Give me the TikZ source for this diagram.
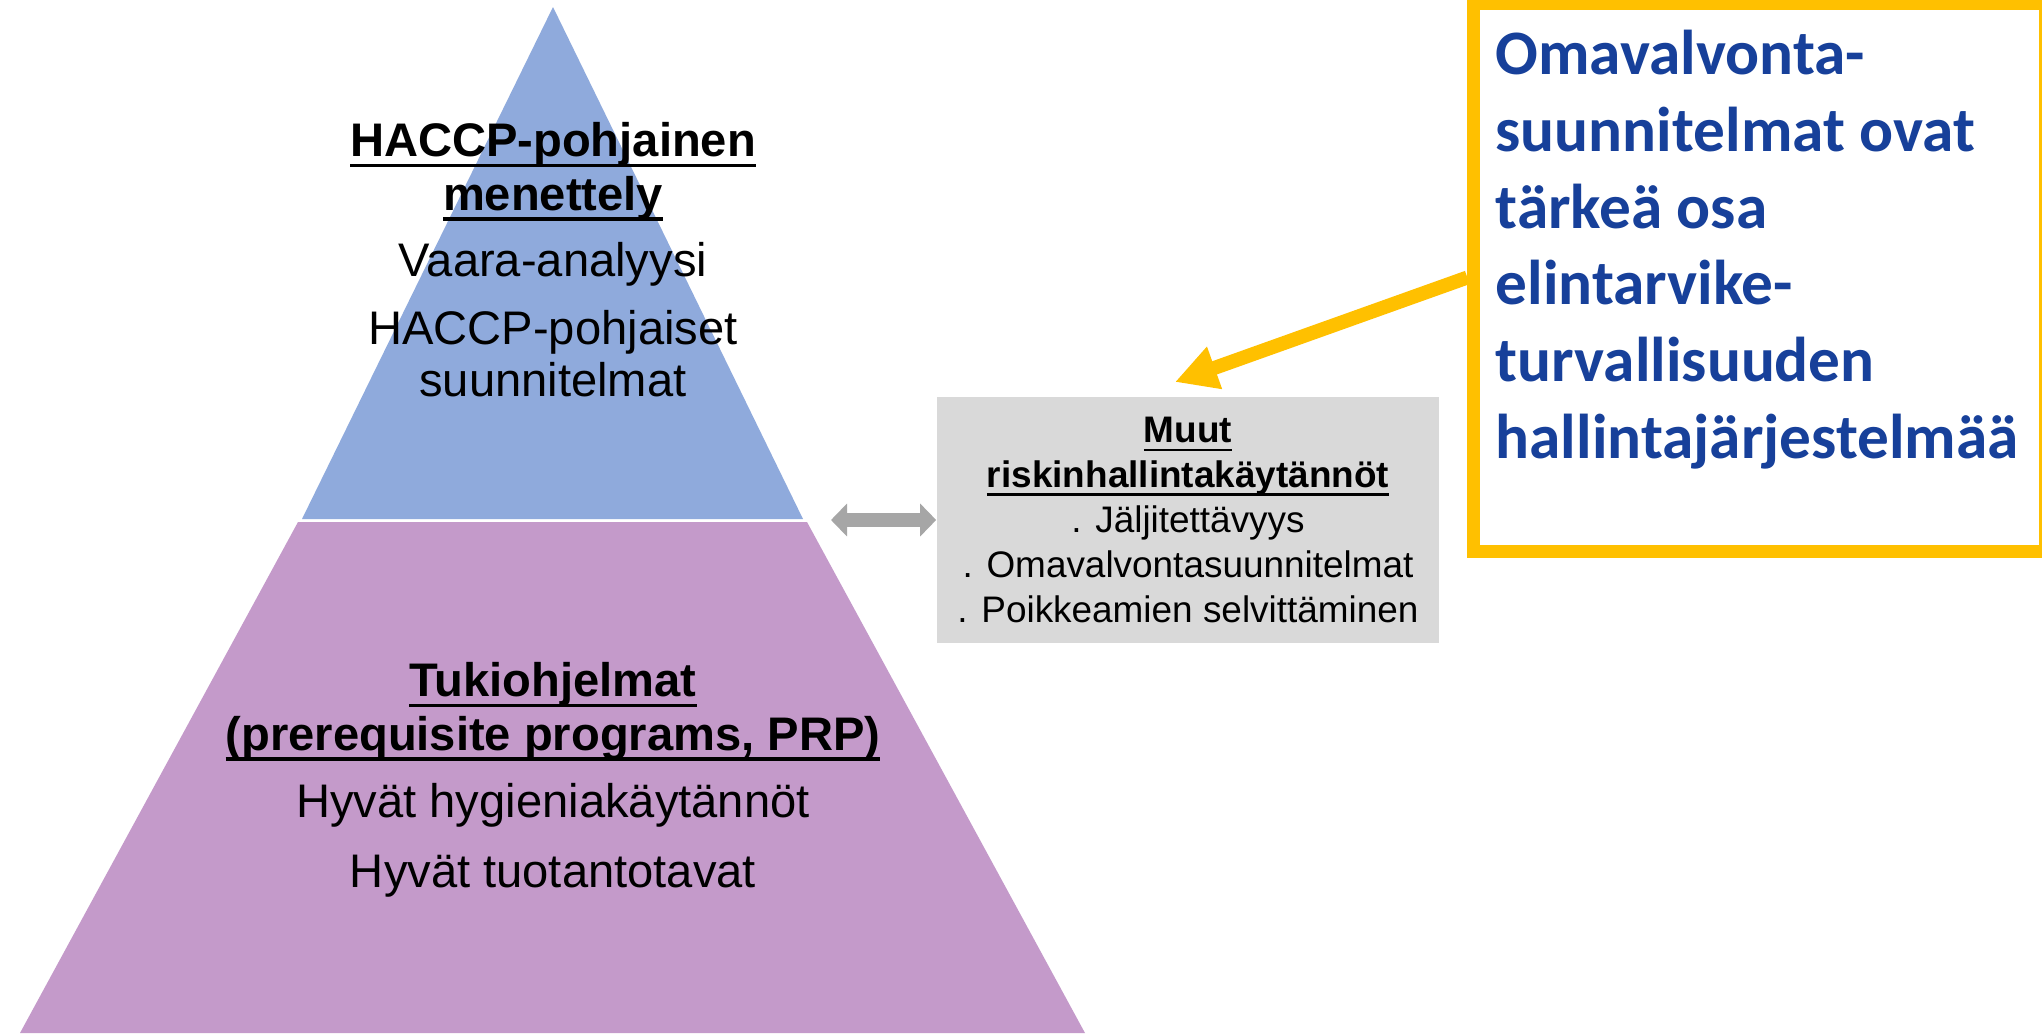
\documentclass[tikz,border=0pt]{standalone}
\usepackage{fontspec}
\setmainfont{Liberation Sans}
\newfontfamily\calibri{Carlito}
\usetikzlibrary{arrows.meta}
\definecolor{haccpblue}{HTML}{8FAADC}
\definecolor{prppurple}{HTML}{C49ACA}
\definecolor{boxgray}{HTML}{D9D9D9}
\definecolor{arrowgray}{HTML}{A6A6A6}
\definecolor{noteyellow}{HTML}{FFC000}
\definecolor{noteblue}{HTML}{17409A}
\newsavebox{\ulnbox}
\newcommand{\uln}[1]{\sbox{\ulnbox}{#1}\rlap{\rule[-0.23em]{\wd\ulnbox}{0.075em}}\usebox{\ulnbox}}
\begin{document}
\begin{tikzpicture}[x=0.01cm, y=-0.01cm,
  pyrtitle/.style={font=\fontsize{13.4}{15.2}\selectfont\bfseries, align=center, anchor=base, inner sep=0pt},
  pyrtext/.style={font=\fontsize{13.4}{14.7}\selectfont, align=center, anchor=base, inner sep=0pt}]
\useasboundingbox (0,0) rectangle (2042,1033);
\fill[white] (0,0) rectangle (2042,1033);
% pyramid
\draw[fill, haccpblue, draw=none] (553,7) -- (803,519) -- (302,519) -- cycle;
\draw[fill, prppurple, draw=none] (298,522) -- (807,522) -- (1085,1033) -- (20,1033) -- cycle;
\node[pyrtitle] (haccptitle) at (553,210) {\uln{HACCP-pohjainen}\\\uln{menettely}};
\node[pyrtext] (vaara) at (553,276) {Vaara-analyysi};
\node[pyrtext] (haccpplans) at (553,396) {HACCP-pohjaiset\\suunnitelmat};
\node[pyrtitle] (prptitle) at (553,750) {\uln{Tukiohjelmat}\\\uln{(prerequisite programs, PRP)}};
\node[pyrtext] (hygiene) at (553,817) {Hyvät hygieniakäytännöt};
\node[pyrtext] (production) at (553,887) {Hyvät tuotantotavat};
% other risk management box
\node[fill=boxgray, minimum width=5.02cm, minimum height=2.46cm, inner sep=0pt, align=center,
  font=\fontsize{10.5}{12.75}\selectfont] (riskbox) at (1188,520)
  {\textbf{\uln{Muut}}\\\textbf{\uln{riskinhallintakäytännöt}}\\. Jäljitettävyys\\. Omavalvontasuunnitelmat\\. Poikkeamien selvittäminen};
\coordinate (pyrright) at (831,520);
\draw[arrowgray, line width=0.14cm, {Triangle[length=0.16cm,width=0.32cm]}-{Triangle[length=0.16cm,width=0.32cm]}] (pyrright) -- (riskbox.west);
% note
\coordinate (risktop) at (1175,382);
\node[draw=noteyellow, line width=0.13cm, minimum width=5.715cm, minimum height=5.48cm, inner sep=0pt] (notebox) at (1759.75,277.5) {};
\draw[noteyellow, line width=0.14cm, -{Triangle[length=0.42cm,width=0.42cm]}] (notebox.west) -- (risktop);
\node[font=\calibri\bfseries\fontsize{18}{21.8}\selectfont, text=noteblue, align=left, anchor=base west, inner sep=0pt] (notetext) at (1495,458)
  {Omavalvonta-\\suunnitelmat ovat\\tärkeä osa\\elintarvike-\\turvallisuuden\\hallintajärjestelmää};
\end{tikzpicture}
\end{document}
